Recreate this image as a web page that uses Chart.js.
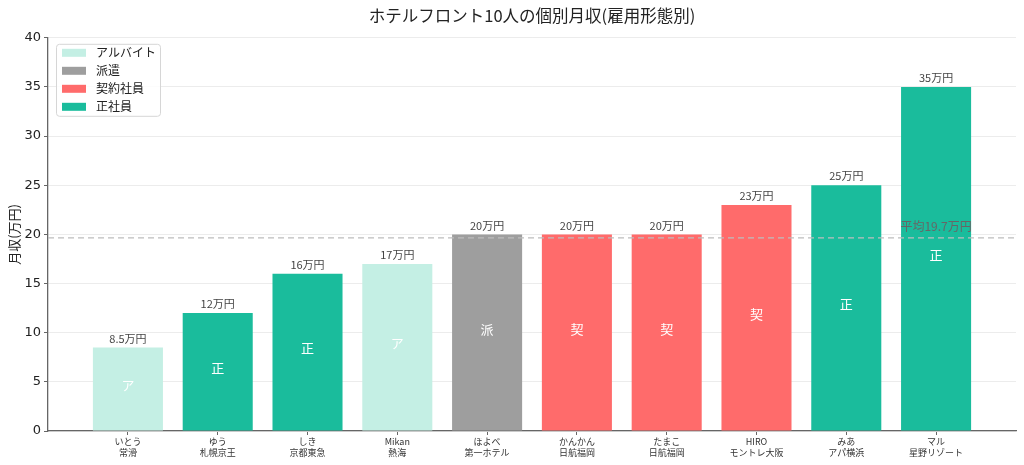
<!DOCTYPE html>
<html><head><meta charset="utf-8">
<script src="https://cdn.jsdelivr.net/npm/chart.js@4.4.1/dist/chart.umd.min.js"></script>
<style>html,body{margin:0;padding:0;background:#fff}#wrap{width:1024px;height:465px}</style>
</head><body><div id="wrap"><canvas id="c" width="1024" height="465"></canvas></div>
<script>
const names = ["いとう","ゆう","しき","Mikan","ほよべ","かんかん","たまこ","HIRO","みあ","マル"];
const companies = ["常滑","札幌京王","京都東急","熱海","第一ホテル","日航福岡","日航福岡","モントレ大阪","アパ横浜","星野リゾート"];
const salaries = [8.5,12,16,17,20,20,20,23,25,35];
const types = ["アルバイト","正社員","正社員","アルバイト","派遣","契約社員","契約社員","契約社員","正社員","正社員"];
const valueLabels = ["8.5万円","12万円","16万円","17万円","20万円","20万円","20万円","23万円","25万円","35万円"];
const legendOrder = ["アルバイト","派遣","契約社員","正社員"];
const typeColors = {"アルバイト":"#c4efe4","派遣":"#9e9e9e","契約社員":"#ff6b6b","正社員":"#1abc9c"};
const typeMarks = {"アルバイト":"ア","派遣":"派","契約社員":"契","正社員":"正"};
const yTicks = [0,5,10,15,20,25,30,35,40];
const avg = salaries.reduce((a,b)=>a+b,0)/salaries.length;
const avgLabel = "平均" + (Math.round(avg*10 + 1e-9)/10).toFixed(1) + "万円";

const JP = '"Noto Sans CJK JP", "DejaVu Sans", sans-serif';

const overlay = {
  id:'overlay',
  afterDatasetsDraw(chart){
    const ctx = chart.ctx, xs = chart.scales.x, ys = chart.scales.y, ca = chart.chartArea;
    ctx.save();
    // average line
    const ya = ys.getPixelForValue(avg);
    ctx.strokeStyle = '#bdbdbd'; ctx.lineWidth = 1.3; ctx.setLineDash([6,4]);
    ctx.beginPath(); ctx.moveTo(ca.left, ya); ctx.lineTo(ca.right, ya); ctx.stroke();
    ctx.setLineDash([]);
    ctx.fillStyle = '#666'; ctx.font = '12px ' + JP; ctx.textAlign='center'; ctx.textBaseline='middle';
    ctx.fillText(avgLabel, xs.getPixelForValue(9), ya - 11);
    // value labels and marks
    salaries.forEach((v,i)=>{
      const x = xs.getPixelForValue(i);
      ctx.fillStyle = '#444'; ctx.font = '11px ' + JP; ctx.textBaseline='middle';
      ctx.fillText(valueLabels[i], x, ys.getPixelForValue(v) - 9);
      ctx.fillStyle = '#fff'; ctx.font = '13px ' + JP;
      ctx.fillText(typeMarks[types[i]], x, ys.getPixelForValue(v/2) - 4);
    });
    // legend
    const lx = ca.left + 8, ly = ca.top + 6, lw = 104, lh = 72;
    ctx.fillStyle = 'rgba(255,255,255,0.85)'; ctx.strokeStyle = '#d6d6d6'; ctx.lineWidth = 1;
    ctx.beginPath(); ctx.roundRect(lx+0.5, ly+0.5, lw, lh, 3); ctx.fill(); ctx.stroke();
    legendOrder.forEach((t,k)=>{
      const yy = ly + 9 + k*18;
      ctx.fillStyle = typeColors[t];
      ctx.fillRect(lx + 6, yy - 4, 24, 8);
      ctx.fillStyle = '#222'; ctx.font = '12px ' + JP; ctx.textAlign='left'; ctx.textBaseline='middle';
      ctx.fillText(t, lx + 40, yy);
    });
    ctx.restore();
  }
};

new Chart(document.getElementById('c'), {
  type:'bar',
  data:{
    datasets:[{
      data: salaries.map((v,i)=>({x:i,y:v})),
      backgroundColor: types.map(t=>typeColors[t]),
      borderWidth:0,
      barPercentage:0.78, categoryPercentage:1
    }]
  },
  options:{
    responsive:false, animation:false,
    layout:{padding:{left:0,right:8,top:0,bottom:0}},
    plugins:{
      legend:{display:false}, tooltip:{enabled:false},
      title:{display:true, text:'ホテルフロント10人の個別月収(雇用形態別)', fullSize:false,
        color:'#222', font:{family:JP, size:16.5, weight:'normal'}, padding:{top:6,bottom:12}}
    },
    scales:{
      x:{type:'linear', min:-0.89, max:9.89, offset:false,
        afterBuildTicks(s){ s.ticks = names.map((n,i)=>({value:i})); },
        afterFit(s){ s.height = 34; },
        ticks:{autoSkip:false, maxRotation:0, padding:1, color:'#333',
          font:{family:JP, size:9, lineHeight:1.25},
          callback:(v)=>[names[v], companies[v]]},
        grid:{offset:false, drawOnChartArea:false, drawTicks:true, tickLength:4, tickColor:'#666'},
        border:{color:'#666', width:1.3}
      },
      y:{min:0, max:40,
        afterBuildTicks(s){ s.ticks = yTicks.map(v=>({value:v})); },
        afterFit(s){ s.width = 48; },
        ticks:{padding:3, color:'#222', font:{family:'"DejaVu Sans", sans-serif', size:13}},
        grid:{color:'#ececec', lineWidth:1, tickLength:4, tickColor:'#666'},
        border:{color:'#666', width:1.3},
        title:{display:true, text:'月収(万円)', color:'#222', font:{family:JP, size:13}, padding:{top:6,bottom:0}}
      }
    }
  },
  plugins:[overlay]
});
</script></body></html>
